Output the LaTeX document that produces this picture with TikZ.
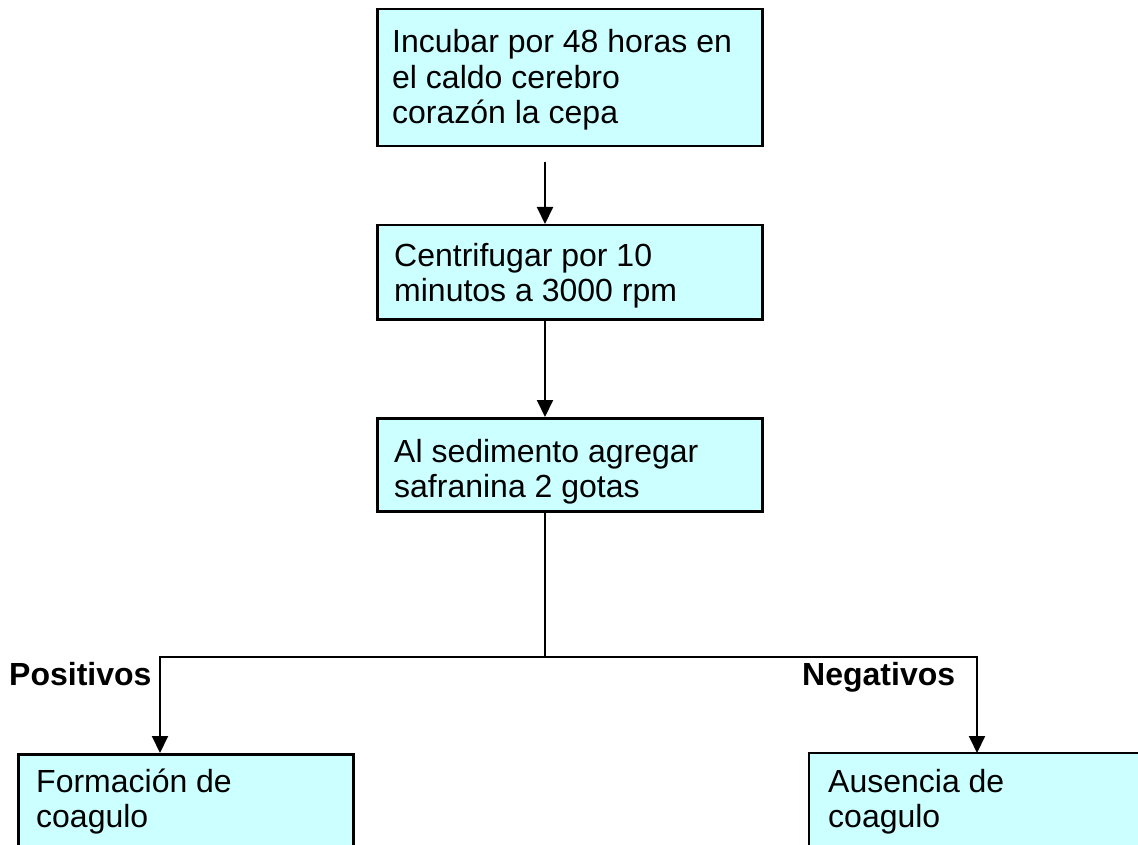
\documentclass[tikz,border=0pt]{standalone}
\usepackage{fontspec}
\setmainfont{Liberation Sans}
\usetikzlibrary{arrows.meta}
\tikzset{
  box/.style={draw=black, line width=2.5pt, fill=boxfill, inner sep=0pt, anchor=north west},
  openbox/.style={fill=boxfill, inner sep=0pt, anchor=north west},
  edge/.style={draw=black, line width=2.5pt},
  txt/.style={anchor=base west, inner sep=0pt},
  lbl/.style={anchor=base west, inner sep=0pt, font=\fontsize{32}{36}\selectfont\bfseries},
  conn/.style={draw=black, line width=2pt},
  arr/.style={conn, -{Triangle[width=16pt,length=17pt]}}
}
\definecolor{boxfill}{HTML}{CCFFFF}
\newcommand{\boxtext}[1]{\parbox[t]{420pt}{\fontsize{32}{35.5}\selectfont\raggedright #1}}
\begin{document}
\begin{tikzpicture}[x=1pt,y=-1pt]
\useasboundingbox (0,0) rectangle (1138,845);
\clip (0,0) rectangle (1138,845);
% boxes
\node[box, minimum width=385pt, minimum height=137pt] (b1) at (376,8) {};
\node[box, minimum width=385pt, minimum height=94pt] (b2) at (376,224) {};
\node[box, minimum width=385pt, minimum height=93pt] (b3) at (376,417) {};
\node[box, minimum width=335pt, minimum height=130pt] (b4) at (17,753) {};
\node[openbox, minimum width=420pt, minimum height=130pt] (b5) at (809,753) {};
\draw[edge] (b5.south west) -- (b5.north west) -- (b5.north east);
% texts
\node[txt] (t1) at (392,53) {\boxtext{Incubar por 48 horas en\\el caldo cerebro\\corazón la cepa}};
\node[txt] (t2) at (394,266) {\boxtext{Centrifugar por 10\\minutos a 3000 rpm}};
\node[txt] (t3) at (394,462) {\boxtext{Al sedimento agregar\\safranina 2 gotas}};
\node[txt] (t4) at (36,792) {\boxtext{Formación de\\coagulo}};
\node[txt] (t5) at (828,792) {\boxtext{Ausencia de\\coagulo}};
\node[lbl] (pos) at (9,685) {Positivos};
\node[lbl] (neg) at (802,685) {Negativos};
% connectors
\coordinate (a1) at (545,162);
\coordinate (x2) at (545,318);
\coordinate (j) at (545,657);
\coordinate (pl) at (160,657);
\coordinate (nl) at (977,657);
\draw[arr] (a1) -- (a1 |- b2.north);
\draw[arr] (x2 |- b2.south) -- (x2 |- b3.north);
\draw[conn] (j |- b3.south) -- (j);
\draw[arr] (j) -- (pl) -- (pl |- b4.north);
\draw[arr] (j) -- (nl) -- (nl |- b5.north);
\end{tikzpicture}
\end{document}
